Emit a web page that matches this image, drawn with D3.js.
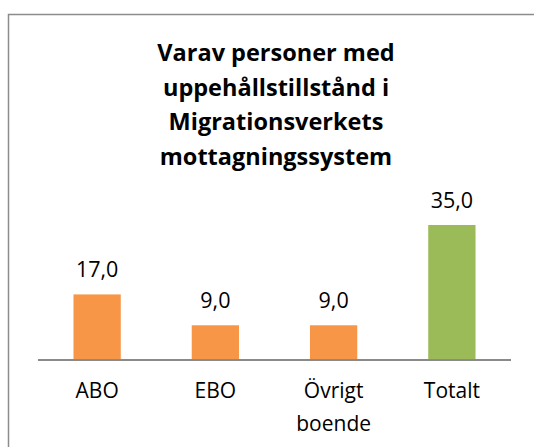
<!DOCTYPE html>
<html><head><meta charset="utf-8">
<script src="https://cdn.jsdelivr.net/npm/d3@7"></script>
<style>
html,body{margin:0;padding:0;background:#fff;}
svg{display:block;font-family:"Open Sans",Lato,sans-serif;}
</style></head>
<body>
<script>
const titleLines = ["Varav personer med", "uppehållstillstånd i", "Migrationsverkets", "mottagningssystem"];
const categories = ["ABO", "EBO", "Övrigt boende", "Totalt"];
const values = [17.0, 9.0, 9.0, 35.0];
const barColors = ["#F79646", "#F79646", "#F79646", "#9BBB59"];

const W = 534, H = 447;
const svg = d3.select("body").append("svg").attr("width", W).attr("height", H);

// outer frame
svg.append("rect").attr("x", 8.5).attr("y", 14.5).attr("width", 560).attr("height", 460)
  .attr("fill", "#fff").attr("stroke", "#8c8c8c").attr("stroke-width", 1.5);

// title
const title = svg.append("text").attr("text-anchor", "middle")
  .attr("font-weight", "bold").attr("font-size", 23.5).attr("fill", "#000");
titleLines.forEach((t, i) => {
  title.append("tspan").attr("x", 276).attr("y", 61 + i * 34.7).text(t);
});

const x = d3.scaleBand().domain(categories).range([38, 511]).paddingInner(0.6).paddingOuter(0.3);
const y = d3.scaleLinear().domain([0, 40]).range([360, 205.7]);

svg.selectAll("rect.bar").data(values).join("rect").attr("class", "bar")
  .attr("x", (d, i) => x(categories[i]))
  .attr("width", x.bandwidth())
  .attr("y", d => y(d))
  .attr("height", d => y(0) - y(d))
  .attr("fill", (d, i) => barColors[i]);

const fmt = d => d.toFixed(1).replace(".", ",");
svg.selectAll("text.val").data(values).join("text").attr("class", "val")
  .attr("x", (d, i) => x(categories[i]) + x.bandwidth() / 2)
  .attr("y", d => y(d) - 17)
  .attr("text-anchor", "middle").attr("font-size", 21.5).attr("fill", "#000")
  .text(fmt);

const axis = d3.axisBottom(x).tickSize(0).tickPadding(0);
const ag = svg.append("g").attr("transform", `translate(0,${y(0)})`).call(axis);
ag.select(".domain").attr("stroke", "#8a8a8a").attr("stroke-width", 2)
  .attr("d", "M38,0H511");
ag.selectAll(".tick text").attr("font-size", 21).attr("fill", "#000")
  .attr("font-family", "'Open Sans', Lato, sans-serif")
  .attr("dy", null).attr("y", 38)
  .each(function(d) {
    const el = d3.select(this);
    const words = d.split(" ");
    el.text(null);
    words.forEach((w, i) => el.append("tspan").attr("x", 0).attr("y", 38 + i * 33).text(w));
  });
</script>
</body></html>
